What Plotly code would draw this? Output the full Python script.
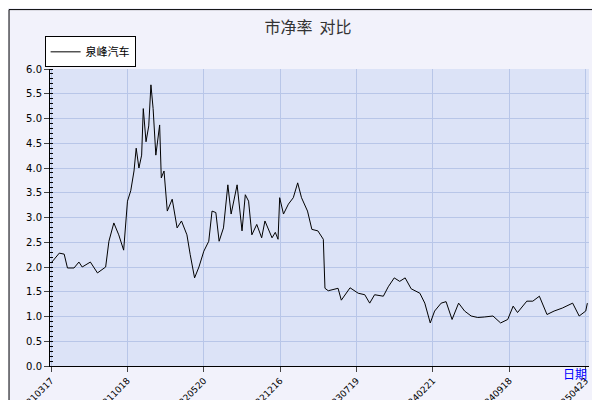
import plotly.graph_objects as go

day_idx = [0, 15, 24, 30, 42, 51, 57, 72, 85, 100, 106, 115, 124, 133, 140, 146, 152, 156,
           161, 166, 169, 174, 179, 183, 187, 192, 199, 202, 207, 213, 222, 231, 239, 249,
           255, 263, 271, 280, 289, 295, 302, 308, 316, 324, 330, 336, 341, 350, 356, 362,
           368, 377, 386, 392, 405, 411, 416, 419, 426, 435, 444, 452, 459, 470, 478, 489,
           499, 502, 508, 526, 532, 548, 563, 575, 584, 593, 609, 618, 629, 639, 649, 660,
           676, 685, 695, 703, 715, 724, 735, 747, 758, 770, 782, 794, 810, 824, 837, 847,
           855, 872, 883, 895, 909, 922, 937, 956, 968, 980, 983]
pb = [2.08, 2.28, 2.26, 1.98, 1.98, 2.10, 2.00, 2.10, 1.88, 2.00, 2.52, 2.89, 2.65, 2.34,
      3.33, 3.54, 3.94, 4.40, 4.00, 4.26, 5.20, 4.53, 4.85, 5.68, 5.20, 4.26, 4.87, 3.80,
      3.94, 3.13, 3.37, 2.79, 2.93, 2.65, 2.25, 1.78, 2.00, 2.32, 2.52, 3.13, 3.10, 2.52,
      2.79, 3.66, 3.07, 3.40, 3.66, 2.73, 3.46, 3.33, 2.65, 2.86, 2.59, 2.93, 2.59, 2.70,
      2.56, 3.40, 3.07, 3.27, 3.40, 3.70, 3.40, 3.13, 2.76, 2.73, 2.56, 1.57, 1.52, 1.57,
      1.33, 1.58, 1.47, 1.44, 1.27, 1.44, 1.41, 1.60, 1.78, 1.71, 1.78, 1.56, 1.47, 1.27,
      0.87, 1.11, 1.27, 1.30, 0.94, 1.27, 1.11, 1.01, 0.98, 0.99, 1.01, 0.87, 0.94, 1.21,
      1.08, 1.31, 1.31, 1.41, 1.04, 1.11, 1.17, 1.27, 1.01, 1.11, 1.27]
tick_pos = [0, 140, 280, 420, 560, 700, 840, 980]
tick_txt = ["20210317", "20211018", "20220520", "20221216", "20230719",
            "20240221", "20240918", "20250423"]

fig = go.Figure()
fig.add_trace(go.Scatter(x=day_idx, y=pb, mode="lines", name="泉峰汽车",
                         line=dict(color="black", width=1)))

fig.update_layout(
    width=600, height=400,
    margin=dict(l=42, r=19, t=61, b=42, autoexpand=False),
    paper_bgcolor="#f2f2fb", plot_bgcolor="#dce3f7",
    font=dict(family="DejaVu Sans", size=10, color="black"),
    title=dict(text="市净率  对比", x=0.5, y=0.965, xanchor="center",
               font=dict(family="Noto Sans CJK SC", size=16, color="#333")),
    showlegend=True,
    legend=dict(x=-0.01, y=1.11, xanchor="left", yanchor="top",
                bgcolor="white", bordercolor="black", borderwidth=1,
                font=dict(family="Noto Sans CJK SC", size=11)),
)
fig.update_xaxes(range=[-2, 986], tickvals=tick_pos, ticktext=tick_txt, automargin=False,
                 tickangle=-45, tickfont=dict(size=9), ticks="outside", ticklen=5,
                 gridcolor="#b8c6e8", showline=True, linecolor="black", zeroline=False)
fig.update_yaxes(range=[0, 6], dtick=0.5, tickformat=".1f", ticks="outside", ticklen=5,
                 automargin=False,
                 minor=dict(dtick=0.1, ticks="inside", ticklen=3, tickcolor="black"),
                 gridcolor="#b8c6e8", showline=True, linecolor="black", zeroline=False)
fig.add_annotation(text="日期", xref="paper", yref="paper", x=1.0, y=-0.06,
                   showarrow=False, font=dict(family="Noto Sans CJK SC", size=12, color="blue"))
fig.add_shape(type="rect", xref="paper", yref="paper", x0=-0.076, y0=-0.136, x1=1.03, y1=1.2,
              line=dict(color="black", width=1))

fig.write_html("out.html")
